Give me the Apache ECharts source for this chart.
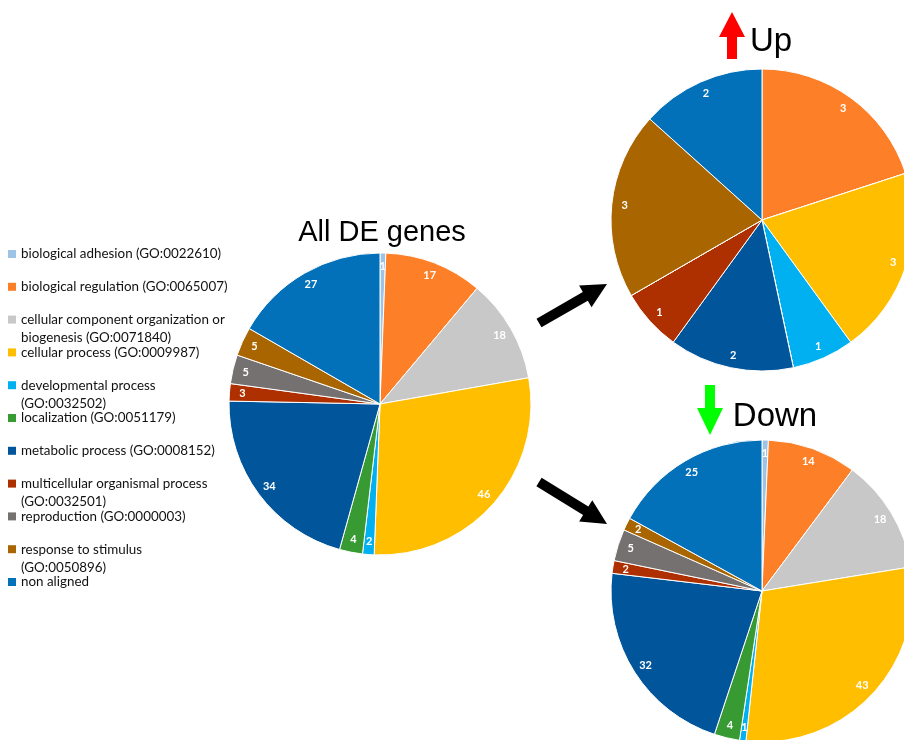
<!DOCTYPE html>
<html>
<head>
<meta charset="utf-8">
<title>GO biological process – DE genes</title>
<script src="https://cdn.jsdelivr.net/npm/echarts@6/dist/echarts.min.js"></script>
<style>
  html, body { margin: 0; padding: 0; background: #fff; }
  #chart { width: 904px; height: 740px; }
</style>
</head>
<body>
<div id="chart"></div>
<script>
// GO biological process categories (level 2)
const categories = [
  'biological adhesion (GO:0022610)',
  'biological regulation (GO:0065007)',
  'cellular component organization or biogenesis (GO:0071840)',
  'cellular process (GO:0009987)',
  'developmental process (GO:0032502)',
  'localization (GO:0051179)',
  'metabolic process (GO:0008152)',
  'multicellular organismal process (GO:0032501)',
  'reproduction (GO:0000003)',
  'response to stimulus (GO:0050896)',
  'non aligned'
];

// Legend text, wrapped the way it is laid out
const legendLines = [
  ['biological adhesion (GO:0022610)'],
  ['biological regulation (GO:0065007)'],
  ['cellular component organization or', 'biogenesis (GO:0071840)'],
  ['cellular process (GO:0009987)'],
  ['developmental process', '(GO:0032502)'],
  ['localization (GO:0051179)'],
  ['metabolic process (GO:0008152)'],
  ['multicellular organismal process', '(GO:0032501)'],
  ['reproduction (GO:0000003)'],
  ['response to stimulus', '(GO:0050896)'],
  ['non aligned']
];

// Gene counts per category
const allValues  = [1, 17, 18, 46, 2, 4, 34, 3, 5, 5, 27];
const upValues   = [0, 3, 0, 3, 1, 0, 2, 1, 0, 3, 2];
const downValues = [1, 14, 18, 43, 1, 4, 32, 2, 5, 2, 25];

const colors = [
  '#9dc3e6', '#fd7f28', '#c8c8c8', '#ffbf00', '#00b0f0', '#379a33',
  '#01559b', '#ae2f00', '#767171', '#a86500', '#0271b9'
];

const chart = echarts.init(document.getElementById('chart'), null, { renderer: 'canvas' });

const R = 151;
const labelFont = { color: '#fff', fontFamily: 'Lato', fontWeight: 'bold', fontSize: 11 };

function toData(values) {
  return categories.map((name, i) => ({ name: name, value: values[i] }));
}

// Filled pie
function piePart(values, center) {
  return {
    type: 'pie',
    center: center,
    radius: [0, R],
    startAngle: 90,
    clockwise: true,
    data: toData(values),
    itemStyle: { borderColor: '#fff', borderWidth: 1 },
    label: { show: false },
    labelLine: { show: false },
    emphasis: { scale: false },
    animation: false
  };
}

// Transparent ring carrying the value labels near the rim
function labelRing(values, center) {
  return {
    type: 'pie',
    center: center,
    radius: [R - 32, R],
    startAngle: 90,
    clockwise: true,
    silent: true,
    legendHoverLink: false,
    data: toData(values),
    itemStyle: { color: 'rgba(0,0,0,0)', borderWidth: 0 },
    label: Object.assign({
      show: true,
      position: 'inside',
      formatter: p => (p.value ? String(p.value) : '')
    }, labelFont),
    labelLine: { show: false },
    emphasis: { disabled: true },
    animation: false
  };
}

const centers = { all: [380, 404], up: [762, 220], down: [762, 591] };

// One legend block per category, each anchored on its own row
const rowTop = 254, rowStep = 32.8, lineH = 18;
const legends = categories.map((name, i) => {
  const lines = legendLines[i];
  const wrapped = lines.length > 1;
  const text = wrapped ? ' \n' + lines.join('\n') : lines[0];
  const centerY = rowTop + i * rowStep;
  return {
    data: [name],
    orient: 'vertical',
    left: 8,
    top: centerY - (wrapped ? lineH * 1.5 : lineH / 2),
    padding: 0,
    itemWidth: 8,
    itemHeight: 8,
    icon: 'rect',
    selectedMode: false,
    itemStyle: { borderWidth: 0 },
    formatter: () => text,
    textStyle: {
      fontFamily: 'Lato',
      fontSize: 13.4,
      color: '#111',
      lineHeight: lineH
    }
  };
});

// Block arrow polygon from tail to tip
function arrow(tail, tip, shaftW, headLen, headW, fill) {
  const dx = tip[0] - tail[0], dy = tip[1] - tail[1];
  const len = Math.hypot(dx, dy);
  const ux = dx / len, uy = dy / len;
  const nx = -uy, ny = ux;
  const bx = tip[0] - ux * headLen, by = tip[1] - uy * headLen;
  const s = shaftW / 2, h = headW / 2;
  return {
    type: 'polygon',
    silent: true,
    shape: {
      points: [
        [tail[0] + nx * s, tail[1] + ny * s],
        [bx + nx * s, by + ny * s],
        [bx + nx * h, by + ny * h],
        [tip[0], tip[1]],
        [bx - nx * h, by - ny * h],
        [bx - nx * s, by - ny * s],
        [tail[0] - nx * s, tail[1] - ny * s]
      ]
    },
    style: { fill: fill }
  };
}

function heading(text, x, y, size) {
  return {
    type: 'text',
    silent: true,
    x: x,
    y: y,
    style: {
      text: text,
      fill: '#000',
      font: size + 'px "Liberation Sans", Arial, sans-serif',
      align: 'center',
      verticalAlign: 'middle'
    }
  };
}

chart.setOption({
  backgroundColor: '#fff',
  color: colors,
  animation: false,
  legend: legends,
  series: [
    piePart(allValues, centers.all),
    piePart(upValues, centers.up),
    piePart(downValues, centers.down),
    labelRing(allValues, centers.all),
    labelRing(upValues, centers.up),
    labelRing(downValues, centers.down)
  ],
  graphic: [
    heading('All DE genes', 382, 233, 29),
    heading('Up', 771, 42, 33),
    heading('Down', 775, 417, 33),
    arrow([732, 59], [732, 12], 10, 25, 26, '#ff0000'),
    arrow([710, 385], [710, 435], 10, 27, 26, '#00ff00'),
    arrow([539, 323], [607, 284], 10, 25, 25, '#000'),
    arrow([539, 482], [607, 524], 10, 25, 25, '#000')
  ]
});
</script>
</body>
</html>
